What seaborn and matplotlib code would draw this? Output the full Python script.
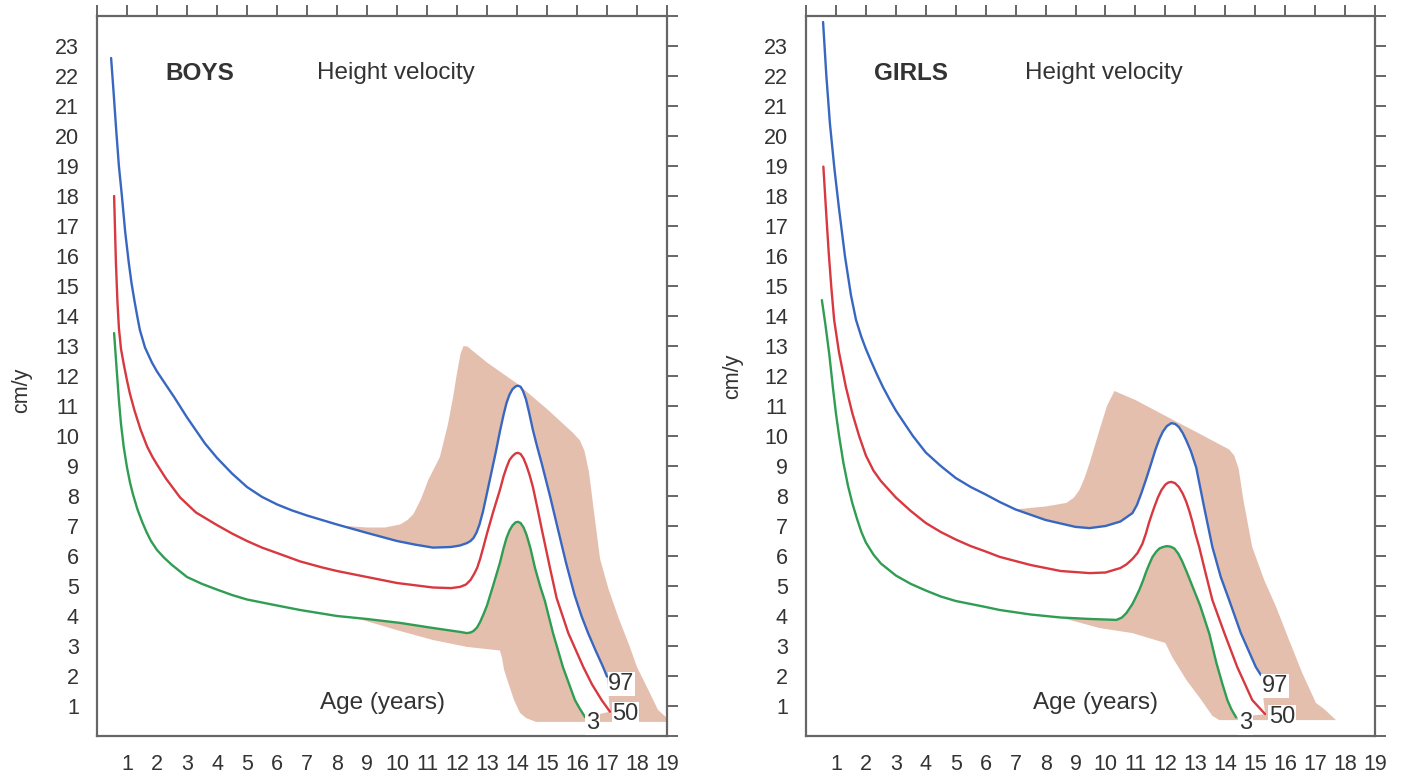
import numpy as np
import matplotlib
matplotlib.use("Agg")
import matplotlib.pyplot as plt
import seaborn as sns

# ---- BOYS (age in years, velocity in cm/y) ----
boys_age_97 = [0.47, 0.55, 0.64, 0.73, 0.83, 0.94, 1.06, 1.15, 1.25, 1.34, 1.43, 1.6, 1.83, 2.0, 2.3, 2.57,
               3.0, 3.6, 4.0, 4.5, 5.0, 5.5, 6.0, 6.5, 7.0, 8.0, 9.0, 10.0, 10.6, 11.2, 11.8, 12.1,
               12.33, 12.45, 12.55, 12.65, 12.75, 12.87, 13.0, 13.15, 13.3, 13.43, 13.55, 13.65, 13.75,
               13.85, 13.95, 14.03, 14.12, 14.2, 14.3, 14.4, 14.53, 14.67, 14.82, 15.1, 15.37, 15.64,
               15.92, 16.15, 16.37, 16.62, 16.87, 17.0]
boys_p97 = [22.6, 21.5, 20.2, 19.0, 18.0, 16.8, 15.77, 15.1, 14.5, 14.0, 13.53, 12.95, 12.45, 12.15, 11.7, 11.3,
            10.62, 9.75, 9.27, 8.75, 8.3, 7.97, 7.72, 7.52, 7.35, 7.05, 6.77, 6.5, 6.38, 6.28, 6.3, 6.35,
            6.43, 6.5, 6.6, 6.78, 7.05, 7.5, 8.1, 8.8, 9.5, 10.15, 10.7, 11.1, 11.38,
            11.56, 11.65, 11.68, 11.64, 11.5, 11.22, 10.8, 10.2, 9.65, 9.1, 8.0, 6.87, 5.75,
            4.7, 4.0, 3.43, 2.85, 2.3, 1.98]

boys_age_50 = [0.57, 0.63, 0.68, 0.73, 0.8, 0.9, 1.0, 1.1, 1.25, 1.45, 1.67, 1.85, 2.0, 2.3, 2.77, 3.3, 4.0,
               4.5, 5.0, 5.5, 6.0, 6.77, 7.5, 8.0, 9.0, 10.0, 11.2, 11.8, 12.1, 12.3, 12.45, 12.57, 12.67,
               12.77, 12.88, 13.0, 13.2, 13.43, 13.55, 13.65, 13.75, 13.85, 13.95, 14.03, 14.12, 14.22,
               14.32, 14.42, 14.53, 14.68, 14.83, 15.1, 15.32, 15.71, 16.21, 16.5, 16.82, 17.1]
boys_p50 = [18.0, 15.8, 14.5, 13.6, 12.9, 12.35, 11.85, 11.4, 10.85, 10.22, 9.65, 9.3, 9.05, 8.58, 7.95, 7.45, 7.03,
            6.75, 6.5, 6.28, 6.1, 5.82, 5.62, 5.5, 5.3, 5.1, 4.95, 4.93, 4.97, 5.05, 5.2, 5.4, 5.6,
            5.9, 6.3, 6.75, 7.45, 8.2, 8.65, 8.95, 9.2, 9.33, 9.42, 9.44, 9.4, 9.25,
            9.0, 8.7, 8.3, 7.6, 6.87, 5.6, 4.6, 3.43, 2.3, 1.72, 1.2, 0.81]

boys_age_3 = [0.57, 0.65, 0.73, 0.8, 0.89, 1.0, 1.1, 1.2, 1.35, 1.5, 1.65, 1.8, 2.0, 2.25, 2.5, 3.0, 3.5,
              4.0, 4.5, 5.0, 6.0, 6.77, 8.0, 9.0, 10.1, 11.2, 12.1, 12.33, 12.45, 12.55, 12.67, 12.77,
              12.88, 13.0, 13.2, 13.43, 13.55, 13.65, 13.75, 13.85, 13.95, 14.03, 14.12, 14.22, 14.32,
              14.45, 14.6, 14.77, 14.93, 15.2, 15.53, 15.93, 16.1, 16.27]
boys_p3 = [13.43, 12.3, 11.2, 10.4, 9.64, 8.95, 8.45, 8.05, 7.55, 7.15, 6.8, 6.5, 6.2, 5.93, 5.7, 5.3, 5.07,
           4.88, 4.7, 4.55, 4.35, 4.2, 4.0, 3.9, 3.77, 3.6, 3.47, 3.43, 3.45, 3.5, 3.62, 3.8,
           4.05, 4.35, 5.0, 5.77, 6.25, 6.6, 6.85, 7.02, 7.12, 7.14, 7.1, 6.95, 6.7,
           6.25, 5.6, 5.0, 4.5, 3.43, 2.3, 1.2, 0.9, 0.63]

boys_band_age = [8.3, 9.0, 9.6, 10.1, 10.35, 10.55, 10.8, 11.05, 11.43, 11.7, 11.87, 12.0, 12.12, 12.22, 12.35,
                 13.0, 14.0, 15.0, 15.87, 16.1, 16.25, 16.4, 16.55, 16.77, 17.05, 17.4, 17.75, 18.0, 18.43,
                 18.7, 19.0, 19.0, 14.63, 14.3, 14.1, 13.9, 13.7, 13.57, 13.5, 13.43, 12.33, 11.2, 10.1,
                 8.4, 8.0]
boys_band_vel = [7.0, 6.95, 6.95, 7.05, 7.2, 7.4, 7.9, 8.55, 9.3, 10.4, 11.3, 12.1, 12.75, 13.0, 12.98,
                 12.45, 11.75, 10.9, 10.1, 9.85, 9.5, 8.8, 7.6, 5.9, 4.9, 3.9, 3.0, 2.3, 1.43,
                 0.87, 0.6, 0.47, 0.47, 0.6, 0.77, 1.2, 1.8, 2.2, 2.6, 2.85, 2.97, 3.2, 3.5,
                 4.0, 4.1]

# ---- GIRLS ----
girls_age_97 = [0.57, 0.68, 0.8, 0.95, 1.1, 1.3, 1.5, 1.67, 1.85, 2.0, 2.17, 2.37, 2.57, 2.8, 3.0, 3.3, 3.57,
                4.0, 4.5, 5.0, 5.5, 6.0, 6.47, 7.0, 8.0, 9.0, 9.47, 10.0, 10.5, 10.9, 11.05, 11.2, 11.37,
                11.53, 11.67, 11.8, 11.92, 12.05, 12.2, 12.33, 12.45, 12.58, 12.7, 12.85, 13.03, 13.3,
                13.57, 13.85, 14.13, 14.52, 15.02, 15.19]
girls_p97 = [23.8, 22.0, 20.4, 18.9, 17.6, 16.0, 14.7, 13.87, 13.3, 12.9, 12.5, 12.05, 11.63, 11.2, 10.85, 10.4, 10.0,
             9.45, 9.0, 8.6, 8.3, 8.05, 7.8, 7.55, 7.2, 6.97, 6.93, 7.0, 7.15, 7.43, 7.7, 8.1, 8.6,
             9.1, 9.55, 9.9, 10.15, 10.33, 10.43, 10.4, 10.3, 10.1, 9.85, 9.5, 8.95, 7.6,
             6.3, 5.3, 4.53, 3.43, 2.3, 2.03]

girls_age_50 = [0.58, 0.67, 0.76, 0.85, 0.94, 1.1, 1.33, 1.55, 1.78, 2.0, 2.25, 2.5, 3.0, 3.5, 4.0, 4.5, 5.0,
                5.5, 6.0, 6.47, 7.5, 8.5, 9.47, 10.0, 10.5, 10.7, 10.9, 11.07, 11.23, 11.35, 11.45, 11.55,
                11.63, 11.75, 11.87, 12.0, 12.1, 12.2, 12.32, 12.45, 12.58, 12.7, 12.8, 12.9, 13.0, 13.13,
                13.35, 13.57, 13.97, 14.4, 14.9, 15.33]
girls_p50 = [18.98, 17.5, 16.09, 14.9, 13.87, 12.8, 11.64, 10.75, 9.98, 9.35, 8.85, 8.5, 7.95, 7.5, 7.1, 6.8, 6.55,
             6.33, 6.15, 5.97, 5.7, 5.5, 5.43, 5.45, 5.6, 5.72, 5.9, 6.1, 6.4, 6.75, 7.1, 7.4,
             7.63, 7.95, 8.2, 8.38, 8.45, 8.47, 8.43, 8.3, 8.08, 7.8, 7.5, 7.15, 6.75, 6.3,
             5.4, 4.53, 3.43, 2.3, 1.2, 0.73]

girls_age_3 = [0.53, 0.65, 0.78, 0.9, 1.0, 1.11, 1.25, 1.4, 1.55, 1.7, 1.85, 2.0, 2.25, 2.5, 3.0, 3.5, 4.0,
               4.5, 5.0, 6.0, 6.47, 7.5, 8.5, 9.5, 10.37, 10.55, 10.7, 10.9, 11.0, 11.13, 11.25, 11.35,
               11.45, 11.57, 11.7, 11.8, 11.92, 12.05, 12.18, 12.3, 12.43, 12.55, 12.7, 12.9, 13.16,
               13.47, 13.7, 13.9, 14.07, 14.2, 14.36]
girls_p3 = [14.53, 13.7, 12.7, 11.6, 10.75, 9.97, 9.1, 8.35, 7.75, 7.25, 6.8, 6.45, 6.05, 5.75, 5.35, 5.07, 4.85,
            4.65, 4.5, 4.3, 4.2, 4.05, 3.95, 3.9, 3.87, 3.95, 4.1, 4.4, 4.6, 4.87, 5.17, 5.45,
            5.7, 5.97, 6.15, 6.25, 6.3, 6.33, 6.31, 6.25, 6.08, 5.85, 5.5, 5.0, 4.35,
            3.4, 2.45, 1.75, 1.2, 0.9, 0.62]

girls_band_age = [7.0, 7.47, 8.0, 8.7, 8.95, 9.13, 9.3, 9.47, 9.8, 10.05, 10.3, 11.0, 12.23, 13.0, 14.13, 14.3,
                  14.45, 14.6, 14.9, 15.3, 15.7, 16.13, 16.57, 17.03, 17.3, 17.7, 13.8, 13.57, 13.2, 12.7,
                  12.23, 12.0, 10.9, 9.8, 8.13]
girls_band_vel = [7.55, 7.6, 7.65, 7.77, 7.95, 8.2, 8.6, 9.1, 10.2, 11.0, 11.5, 11.2, 10.55, 10.15, 9.55, 9.35,
                  8.9, 7.9, 6.3, 5.2, 4.3, 3.2, 2.1, 1.1, 0.9, 0.53, 0.53, 0.67, 1.2, 1.87,
                  2.63, 3.1, 3.43, 3.6, 4.05]

panels = {
    "BOYS": dict(p97=(boys_age_97, boys_p97), p50=(boys_age_50, boys_p50), p3=(boys_age_3, boys_p3),
                 band=(boys_band_age, boys_band_vel),
                 lab97=(17.48, 1.73), lab50=(17.62, 0.75), lab3=(16.52, 0.42),
                 title_x=3.43, hv_x=9.97, age_x=9.5, ylab=(-0.114, 0.48)),
    "GIRLS": dict(p97=(girls_age_97, girls_p97), p50=(girls_age_50, girls_p50), p3=(girls_age_3, girls_p3),
                  band=(girls_band_age, girls_band_vel),
                  lab97=(15.65, 1.67), lab50=(15.9, 0.63), lab3=(14.68, 0.42),
                  title_x=3.5, hv_x=9.93, age_x=9.67, ylab=(-0.111, 0.50)),
}

BLUE = "#3767c0"
RED = "#d8383f"
GREEN = "#2f9d52"
PEACH = "#e5bfae"
AXC = "#666666"
TXT = "#333333"

sns.set_style("white")
plt.rcParams["font.family"] = ["Liberation Sans", "DejaVu Sans"]

fig = plt.figure(figsize=(14.17, 7.78), dpi=100)
ax_boys = fig.add_axes([97 / 1417, 1 - 736 / 778, 570 / 1417, 720 / 778])
ax_girls = fig.add_axes([806 / 1417, 1 - 736 / 778, 569 / 1417, 720 / 778])

for ax, (name, p) in zip([ax_boys, ax_girls], panels.items()):
    # shaded band, then white between the 3rd and 97th centiles
    ax.fill(p["band"][0], p["band"][1], color=PEACH, lw=0, zorder=1)
    wx = list(p["p97"][0]) + [p["p50"][0][-1]] + list(p["p3"][0][::-1])
    wy = list(p["p97"][1]) + [p["p50"][1][-1]] + list(p["p3"][1][::-1])
    ax.fill(wx, wy, color="white", lw=0, zorder=2)

    for key, col in [("p97", BLUE), ("p50", RED), ("p3", GREEN)]:
        sns.lineplot(x=p[key][0], y=p[key][1], ax=ax, color=col, linewidth=1.7,
                     sort=False, estimator=None, zorder=3)

    box = dict(facecolor="white", edgecolor="none", pad=0.5)
    for key, txt in [("lab97", "97"), ("lab50", "50"), ("lab3", "3")]:
        ax.text(*p[key], txt, fontsize=17, color=TXT, ha="center", va="center", bbox=box, zorder=4)

    ax.text(p["title_x"], 22.1, name, fontsize=17.5, fontweight="bold", color=TXT, ha="center", va="center")
    ax.text(p["hv_x"], 22.1, "Height velocity", fontsize=17.5, color=TXT, ha="center", va="center")
    ax.text(p["age_x"], 1.1, "Age (years)", fontsize=17.5, color=TXT, ha="center", va="center", zorder=4)

    ax.set_xlim(0, 19)
    ax.set_ylim(0, 24)
    ax.set_xticks(range(0, 20))
    ax.set_xticklabels([""] + [str(i) for i in range(1, 20)])
    ax.set_yticks(range(0, 25))
    ax.set_yticklabels([""] + [str(i) for i in range(1, 24)] + [""])
    ax.tick_params(direction="out", top=True, right=True, length=8, width=1.4, color=AXC,
                   labelsize=15.5, labelcolor=TXT, pad=5)
    for s in ax.spines.values():
        s.set_visible(True)
        s.set_color(AXC)
        s.set_linewidth(1.6)
    ax.set_xlabel("")
    ax.set_ylabel("cm/y", fontsize=15.5, color=TXT)
    ax.yaxis.set_label_coords(*p["ylab"])

fig.savefig("out.png", dpi=100)
